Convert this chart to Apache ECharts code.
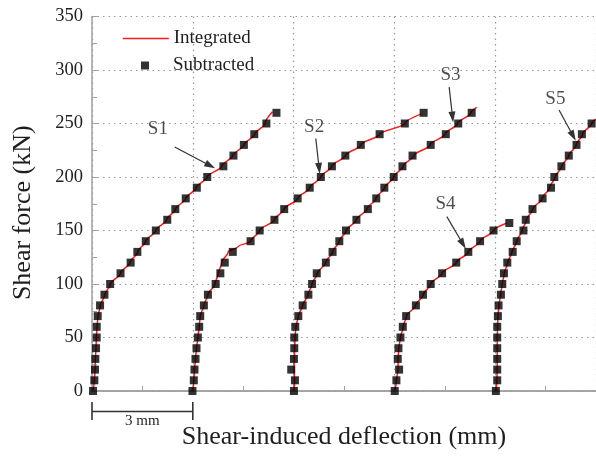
<!DOCTYPE html>
<html>
<head>
<meta charset="utf-8">
<script src="https://cdn.jsdelivr.net/npm/echarts@6/dist/echarts.min.js"></script>
<style>html,body{margin:0;padding:0;background:#fff}#c{width:596px;height:460px}</style>
</head>
<body>
<div id="c"></div>
<script>
// Force levels (kN) for the subtracted points
const forceLevels = [0,10,20,30,40,50,60,70,80,90,100,110,120,130,140,150,160,170,180,190,200,210,220,230,240,250,260];
const forceLevelsS4 = [0,10,20,30,40,50,60,70,80,90,100,110,120,130,140,150,157];
const forceLevelsS5 = [0,10,20,30,40,50,60,70,80,90,100,110,120,130,140,150,160,170,180,190,200,210,220,230,240,250];

// Subtracted deflections (mm, with the 3 mm offsets as plotted)
const subS1 = [0.03,0.07,0.09,0.10,0.12,0.14,0.14,0.17,0.24,0.37,0.54,0.85,1.15,1.35,1.60,1.90,2.24,2.48,2.79,3.12,3.43,3.91,4.21,4.52,4.83,5.19,5.49];
const subS2 = [2.99,3.03,3.05,3.08,3.11,3.15,3.19,3.22,3.33,3.45,3.68,3.82,3.95,4.19,4.72,4.99,5.43,5.72,6.12,6.48,6.81,7.14,7.54,8.00,8.56,9.31,9.87];
const subS3 = [6.01,6.04,5.93,6.01,6.02,6.02,6.05,6.14,6.27,6.44,6.55,6.69,6.96,7.16,7.36,7.56,7.87,8.21,8.46,8.70,8.98,9.24,9.54,10.08,10.53,10.90,11.30];
const subS4 = [9.01,9.06,9.14,9.10,9.12,9.18,9.25,9.35,9.64,9.85,10.08,10.42,10.84,11.20,11.55,11.95,12.42];
const subS5 = [12.02,12.06,12.06,12.06,12.06,12.06,12.06,12.08,12.10,12.17,12.21,12.26,12.36,12.52,12.64,12.84,12.91,13.11,13.41,13.66,13.76,13.97,14.19,14.42,14.58,14.87];

// Integrated curves (force levels and deflections)
const intS1F = [0,10,20,30,40,50,60,70,80,90,100,110,120,130,140,150,160,170,180,190,200,210,220,230,240,250,261];
const intS1X = [0.03,0.07,0.09,0.10,0.12,0.13,0.15,0.18,0.25,0.38,0.55,0.85,1.13,1.36,1.60,1.90,2.22,2.49,2.79,3.10,3.43,3.86,4.19,4.52,4.84,5.15,5.37];
const intS2F = [0,10,20,30,40,50,60,70,80,90,100,110,120,130,135,140,150,160,170,180,190,200,210,220,230,240,250,259];
const intS2X = [2.99,3.03,3.05,3.08,3.11,3.15,3.19,3.22,3.33,3.45,3.66,3.76,3.86,4.05,4.35,4.72,4.99,5.43,5.72,6.12,6.48,6.81,7.14,7.54,8.00,8.56,9.31,9.80];
const intS3F = [0,10,20,30,40,50,60,70,80,90,100,110,120,130,140,150,160,170,180,190,200,210,220,230,240,250,260,265];
const intS3X = [6.01,6.03,6.01,6.02,6.03,6.04,6.07,6.14,6.27,6.43,6.55,6.71,6.95,7.16,7.36,7.57,7.87,8.18,8.45,8.71,8.98,9.26,9.58,10.06,10.50,10.88,11.28,11.45];
const intS4F = [0,10,20,30,40,50,60,70,80,90,100,110,120,130,140,150,157];
const intS4X = [9.01,9.06,9.11,9.11,9.13,9.18,9.26,9.36,9.63,9.86,10.08,10.42,10.84,11.20,11.55,11.95,12.35];
const intS5F = [0,10,20,30,40,50,60,70,80,90,100,110,120,130,140,150,160,170,180,190,200,210,220,230,240,250,254];
const intS5X = [12.02,12.05,12.06,12.06,12.06,12.06,12.07,12.08,12.11,12.16,12.21,12.27,12.37,12.50,12.64,12.80,12.93,13.12,13.40,13.62,13.78,13.98,14.19,14.41,14.60,14.87,15.0];

// Specimen labels and arrows (data coordinates)
const noteNames = ['S1','S2','S3','S4','S5'];
const noteText = [[1.96,245],[6.61,247],[10.67,295],[10.52,175],[13.79,273]];
const arrowFrom = [[2.46,228],[6.66,236],[10.63,284],[10.56,163],[13.90,262.6]];
const arrowTo = [[3.52,210.5],[6.76,208],[10.73,256],[11.04,137.4],[14.32,238.3]];

// Axis ticks
const xTicks = {min:0, max:15, interval:3};
const yTicks = {min:0, max:350, interval:50};

const FONT = 'Liberation Serif';
const TXT = '#1e1e1e';
const AXC = '#a0a0a0';

function pairs(xs, ys){ return xs.map((x,i)=>[x, ys[i]]); }

const lineSets = [[intS1X,intS1F],[intS2X,intS2F],[intS3X,intS3F],[intS4X,intS4F],[intS5X,intS5F]];
const subSets = [[subS1,forceLevels],[subS2,forceLevels],[subS3,forceLevels],[subS4,forceLevelsS4],[subS5,forceLevelsS5]];

const series = [];
lineSets.forEach(([xs,ys])=>{
  series.push({name:'Integrated', type:'line', data:pairs(xs,ys), symbol:'none', smooth:0.3, smoothMonotone:'y',
    lineStyle:{color:'#ff1a1a', width:1.5}, itemStyle:{color:'#ff1a1a'}, z:2, silent:true});
});
subSets.forEach(([xs,ys])=>{
  series.push({name:'Subtracted', type:'scatter', data:pairs(xs,ys), symbol:'rect', symbolSize:8,
    itemStyle:{color:'#000'}, z:3, silent:true});
});
series.push({name:'notes', type:'scatter', symbolSize:0, silent:true, z:4,
  data: noteNames.map((n,i)=>({value:noteText[i], name:n})),
  label:{show:true, position:'inside', formatter:p=>p.name, fontFamily:FONT, fontSize:19, color:TXT},
  markLine:{silent:true, symbol:['none','triangle'], symbolSize:[7,11], label:{show:false},
    lineStyle:{color:'#333', width:1.2, type:'solid'},
    emphasis:{disabled:true},
    data: arrowFrom.map((f,i)=>[{coord:f},{coord:arrowTo[i]}])}
});

const chart = echarts.init(document.getElementById('c'), null, {renderer:'canvas'});
const option = {
  animation:false,
  backgroundColor:'#fff',
  textStyle:{fontFamily:FONT, color:TXT},
  grid:{left:92, right:-2, top:16.5, bottom:69},
  legend:[
    {data:['Integrated'], left:122, top:29, padding:0, itemWidth:46, itemHeight:10, selectedMode:false,
      itemStyle:{color:'rgba(0,0,0,0)', borderWidth:0},
      lineStyle:{color:'#ff1a1a', width:1.5},
      textStyle:{fontFamily:FONT, fontSize:19, color:TXT}},
    {data:['Subtracted'], left:141, top:56, padding:0, itemWidth:8, itemHeight:8, selectedMode:false,
      textStyle:{fontFamily:FONT, fontSize:19, color:TXT, padding:[0,0,0,19]}}
  ],
  xAxis:[{
    type:'value', min:xTicks.min, max:xTicks.max, interval:xTicks.interval,
    name:'Shear-induced deflection (mm)', nameLocation:'middle', nameGap:33,
    nameTextStyle:{fontFamily:FONT, fontSize:26, color:TXT},
    axisLine:{show:true, onZero:false, lineStyle:{color:AXC, width:1.5}},
    axisTick:{show:true, inside:true, length:7, lineStyle:{color:AXC}},
    minorTick:{show:true, splitNumber:2, length:5, lineStyle:{color:AXC}},
    axisLabel:{show:false},
    splitLine:{show:true, lineStyle:{color:'#999', width:1.2, type:[1.5,4]}}
  },{
    type:'value', position:'top', min:xTicks.min, max:xTicks.max, interval:xTicks.interval,
    axisLine:{show:true, lineStyle:{color:AXC, width:1.5}},
    axisTick:{show:false}, axisLabel:{show:false}, splitLine:{show:false}
  }],
  yAxis:[{
    type:'value', min:yTicks.min, max:yTicks.max, interval:yTicks.interval,
    name:'Shear force (kN)', nameLocation:'middle', nameGap:56, nameRotate:90,
    nameTextStyle:{fontFamily:FONT, fontSize:26, color:TXT, padding:[0,18,0,0]},
    axisLine:{show:true, onZero:false, lineStyle:{color:AXC, width:1.5}},
    axisTick:{show:true, inside:true, length:7, lineStyle:{color:AXC}},
    minorTick:{show:true, splitNumber:2, length:5, lineStyle:{color:AXC}},
    axisLabel:{show:true, margin:9, fontFamily:FONT, fontSize:18.5, color:TXT},
    splitLine:{show:true, lineStyle:{color:'#999', width:1.2, type:[1.5,4]}}
  }],
  series: series
};
chart.setOption(option);

// Scale bar "3 mm" below the axis, positioned through the x scale
const x0 = chart.convertToPixel({xAxisIndex:0}, 0);
const x3 = chart.convertToPixel({xAxisIndex:0}, 3);
const xm = chart.convertToPixel({xAxisIndex:0}, 1.5);
const yb = chart.convertToPixel({yAxisIndex:0}, 0);
chart.setOption({graphic:[
  {type:'line', shape:{x1:x0, y1:yb+20.5, x2:x3, y2:yb+20.5}, style:{stroke:'#333', lineWidth:1.6}, silent:true},
  {type:'line', shape:{x1:x0, y1:yb+11, x2:x0, y2:yb+29}, style:{stroke:'#333', lineWidth:1.6}, silent:true},
  {type:'line', shape:{x1:x3, y1:yb+11, x2:x3, y2:yb+29}, style:{stroke:'#333', lineWidth:1.6}, silent:true},
  {type:'text', x:xm, y:yb+30, style:{text:'3 mm', fontFamily:FONT, fontSize:15, fill:TXT, textAlign:'center', textVerticalAlign:'middle'}, silent:true}
]});
</script>
</body>
</html>
